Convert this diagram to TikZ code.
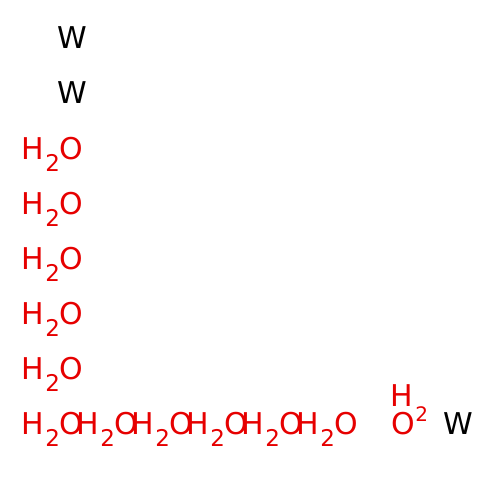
\documentclass[tikz,border=0pt]{standalone}
\usepackage{fontspec}
\setmainfont{DejaVu Sans}
\definecolor{wred}{RGB}{230,0,0}
\newcommand\watr{H\kern1.3pt\raisebox{-12pt}{\fontsize{23}{23}\selectfont 2}O}
\tikzset{
  lbl/.style={anchor=base west,inner sep=0pt,outer sep=0pt,font=\fontsize{30}{30}\selectfont},
  wat/.style={lbl,text=wred},
  tung/.style={lbl,text=black},
}
\begin{document}
\begin{tikzpicture}[x=1pt,y=1pt]
\useasboundingbox (0,0) rectangle (500,500);
\node[tung] (w1) at (57,451) {W};
\node[tung] (w2) at (57,396) {W};
\foreach \i/\yy in {1/340,2/285,3/230,4/175,5/120}{
  \node[wat] (r\i) at (21.4,\yy) {\watr};
}
\foreach \k in {0,...,5}{
  \node[wat] (b\k) at (21.4+55*\k,65) {\watr};
}
\node[wat] (o) at (391,65) {O};
\node[wat] (oh) at (390.4,93) {H};
\node[wat,font=\fontsize{20}{20}\selectfont] (o2) at (415.3,78.3) {2};
\node[tung] (w3) at (443,65) {W};
\end{tikzpicture}
\end{document}
